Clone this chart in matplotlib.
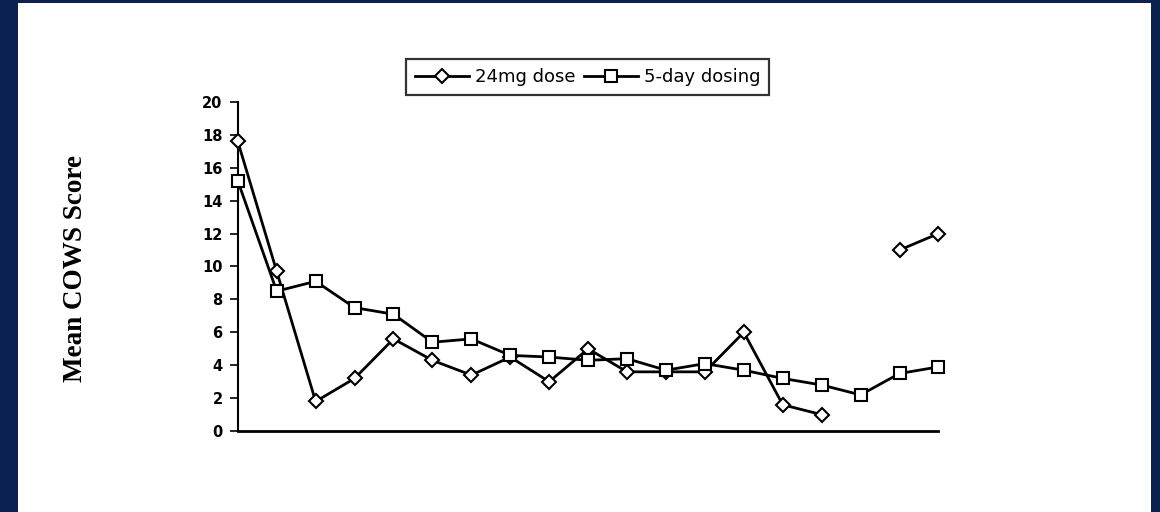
import numpy as np
import matplotlib
matplotlib.use('Agg')
import matplotlib.pyplot as plt
from matplotlib.patches import Rectangle

# mean COWS score per session
sessions = np.arange(19)
dose_24mg = [17.6, 9.7, 1.8, 3.2, 5.6, 4.3, 3.4, 4.5, 3.0, 5.0, 3.6, 3.6, 3.6, 6.0, 1.6, 1.0, np.nan, 11.0, 12.0]
five_day = [15.2, 8.5, 9.1, 7.5, 7.1, 5.4, 5.6, 4.6, 4.5, 4.3, 4.4, 3.7, 4.1, 3.7, 3.2, 2.8, 2.2, 3.5, 3.9]
yticks = [0, 2, 4, 6, 8, 10, 12, 14, 16, 18, 20]

fig = plt.figure(figsize=(11.6, 5.12), dpi=100)
fig.patch.set_facecolor('#0b2251')
fig.add_artist(Rectangle((18/1160, 0), (1151-18)/1160, (512-3)/512,
                         transform=fig.transFigure, facecolor='white',
                         edgecolor='none', zorder=-1))

ax = fig.add_axes([0.205, 0.158, 0.604, 0.643])
ax.set_facecolor('white')
l1, = ax.plot(sessions, dose_24mg, color='black', lw=2, marker='D', ms=7.5,
              mfc='white', mec='black', mew=1.5, clip_on=False, zorder=3,
              label='24mg dose')
l2, = ax.plot(sessions, five_day, color='black', lw=2, marker='s', ms=8.5,
              mfc='white', mec='black', mew=1.5, clip_on=False, zorder=4,
              label='5-day dosing')

ax.set_xlim(0, 18)
ax.set_ylim(0, 20)
ax.set_yticks(yticks)
ax.set_xticks([])
for s in ['top', 'right']:
    ax.spines[s].set_visible(False)
ax.spines['left'].set_linewidth(1.5)
ax.spines['bottom'].set_linewidth(2)
ax.tick_params(axis='y', direction='out', length=6, width=1.2, pad=5,
               labelsize=10.5)
for t in ax.get_yticklabels():
    t.set_fontweight('bold')

fig.text(76/1160, 1-268/512, 'Mean COWS Score', rotation=90, ha='center',
         va='center', fontsize=19.5, fontweight='bold', family='Liberation Serif')

leg = fig.legend(handles=[l1, l2], loc='center', bbox_to_anchor=(0.5065, 0.849),
                 ncol=2, fontsize=13, frameon=True, fancybox=False,
                 handlelength=3.0, handletextpad=0.3, columnspacing=0.5,
                 borderpad=0.5, borderaxespad=0)
leg.get_frame().set_edgecolor('black')
leg.get_frame().set_linewidth(1.6)

fig.savefig('out.png', dpi=100, facecolor=fig.get_facecolor())
